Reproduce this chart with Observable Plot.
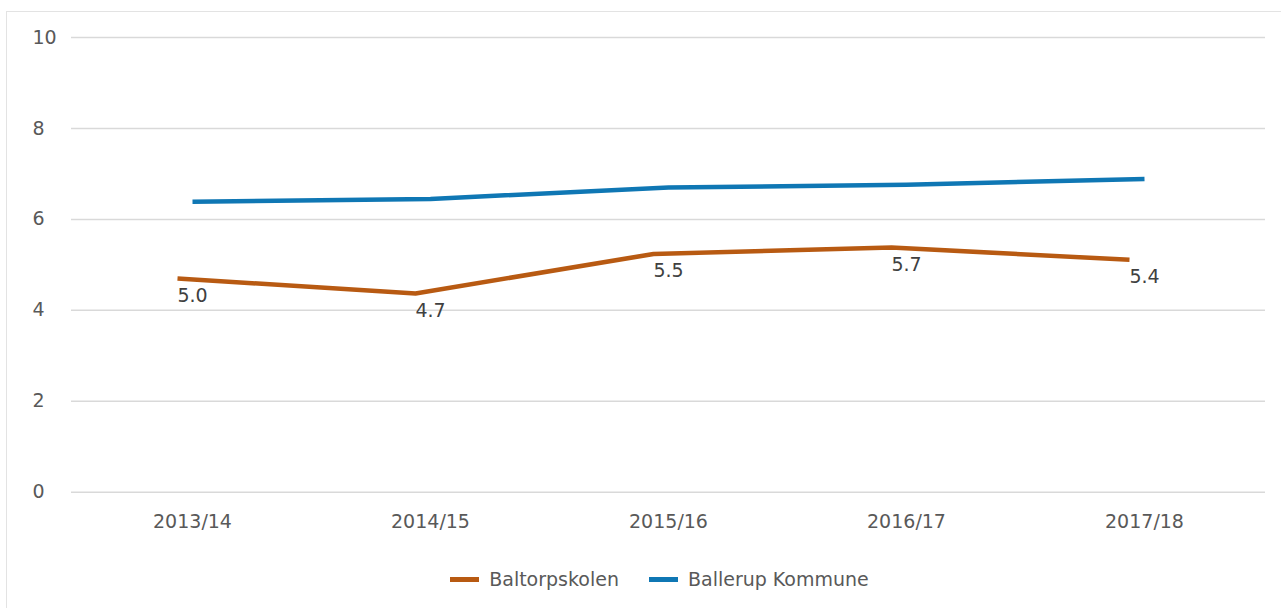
<!DOCTYPE html>
<html>
<head>
<meta charset="utf-8">
<script src="https://cdn.jsdelivr.net/npm/d3@7"></script>
<script src="https://cdn.jsdelivr.net/npm/@observablehq/plot@0.6"></script>
<style>
  html, body { margin: 0; padding: 0; background: #fff; overflow: hidden; }
  body { width: 1281px; height: 608px; position: relative; font-family: "DejaVu Sans", sans-serif; }
  #frame { position: absolute; left: 6px; top: 11px; width: 1400px; height: 700px; border: 1px solid #e3e3e3; box-sizing: border-box; pointer-events: none; }
  #chart { position: absolute; left: 0; top: 0; }
  #legend { position: absolute; left: 0; top: 550px; width: 1281px; height: 58px; display: flex; justify-content: center; align-items: center; padding-left: 38px; box-sizing: border-box; font-size: 19px; color: #595959; }
  .item { display: flex; align-items: center; margin: 0 15px; }
  .sw { width: 29px; height: 5px; margin-right: 10px; }
</style>
</head>
<body>
<div id="chart"></div>
<div id="legend"></div>
<div id="frame"></div>
<script>
const seasons = ["2013/14", "2014/15", "2015/16", "2016/17", "2017/18"];
const seriesNames = ["Baltorpskolen", "Ballerup Kommune"];
const baltorpskolen = [4.70, 4.37, 5.24, 5.38, 5.11];
const ballerup = [6.39, 6.45, 6.70, 6.76, 6.89];
const baltorpLabels = ["5.0", "4.7", "5.5", "5.7", "5.4"];
const yTicks = [0, 2, 4, 6, 8, 10];
const colors = ["#B85A12", "#0F77B4"];

const baltData = seasons.map((s, i) => ({season: s, value: baltorpskolen[i], label: baltorpLabels[i]}));
const ballData = seasons.map((s, i) => ({season: s, value: ballerup[i]}));

const chart = Plot.plot({
  width: 1281,
  height: 550,
  marginLeft: 71,
  marginRight: 16,
  marginTop: 37,
  marginBottom: 58.3,
  style: {fontFamily: "DejaVu Sans, sans-serif", fontSize: "19px", color: "#595959", background: "transparent"},
  x: {type: "point", domain: seasons, padding: 0.5, label: null},
  y: {domain: [0, 10], ticks: yTicks, label: null},
  marks: [
    Plot.gridY(yTicks, {stroke: "#d9d9d9", strokeOpacity: 1, strokeWidth: 1.5}),
    Plot.axisY(yTicks, {tickSize: 0, tickPadding: 0, textAnchor: "start", dx: -39, fill: "#595959", fontSize: 19}),
    Plot.axisX({tickSize: 0, tickPadding: 22, fill: "#595959", fontSize: 19}),
    Plot.line(ballData, {x: "season", y: "value", stroke: colors[1], strokeWidth: 4.5, strokeLinecap: "butt"}),
    Plot.line(baltData, {x: "season", y: "value", stroke: colors[0], strokeWidth: 4.5, strokeLinecap: "butt", dx: -15}),
    Plot.text(baltData, {x: "season", y: "value", text: "label", dy: 17, fill: "#404040", fontSize: 19})
  ]
});
document.getElementById("chart").appendChild(chart);

const legend = document.getElementById("legend");
seriesNames.forEach((n, i) => {
  const it = document.createElement("div");
  it.className = "item";
  const sw = document.createElement("div");
  sw.className = "sw";
  sw.style.background = colors[i];
  const t = document.createElement("span");
  t.textContent = n;
  it.appendChild(sw);
  it.appendChild(t);
  legend.appendChild(it);
});
</script>
</body>
</html>
